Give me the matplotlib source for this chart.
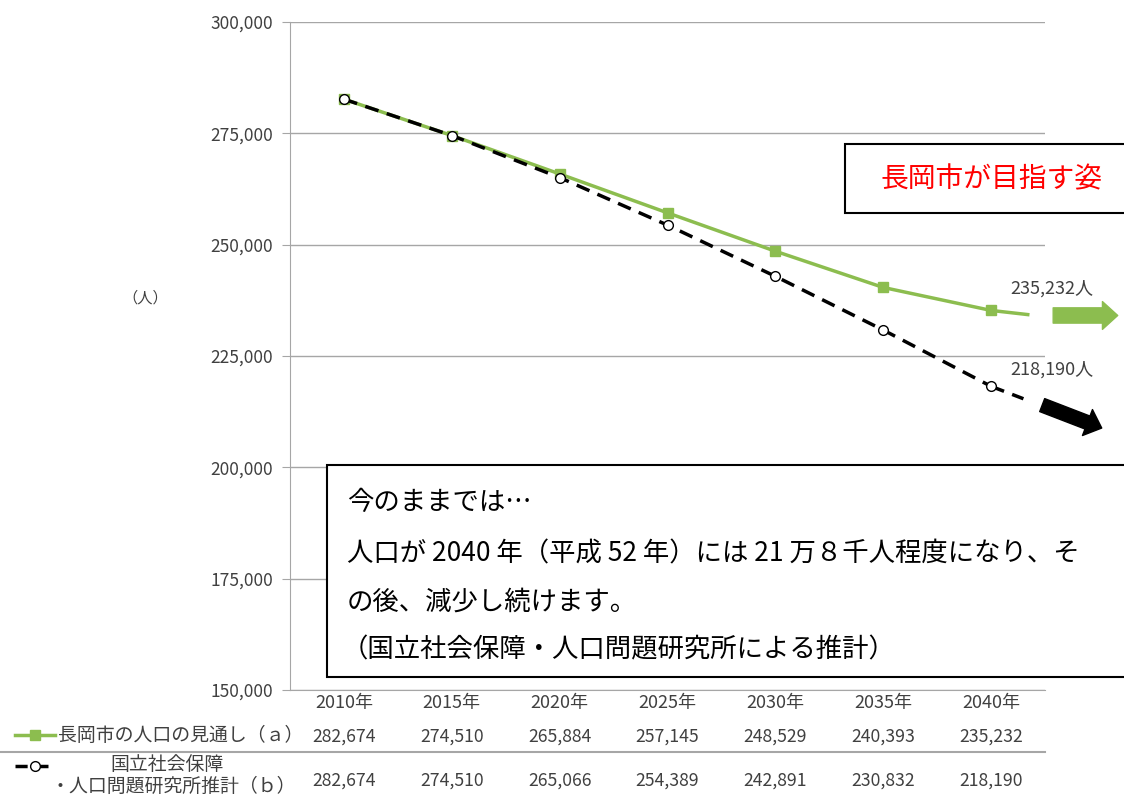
import matplotlib.pyplot as plt
import numpy as np
from matplotlib.patches import FancyArrowPatch, Rectangle
from matplotlib.lines import Line2D

plt.rcParams['font.family'] = ['Noto Sans CJK JP', 'DejaVu Sans']

# data
years = ['2010年', '2015年', '2020年', '2025年', '2030年', '2035年', '2040年']
nagaoka = [282674, 274510, 265884, 257145, 248529, 240393, 235232]
ipss = [282674, 274510, 265066, 254389, 242891, 230832, 218190]
yticks = [150000, 175000, 200000, 225000, 250000, 275000, 300000]

# trend after 2040 (tail of line, arrow start, arrow end)
nagaoka_tail = [(6.0, 235232), (6.34, 234300)]
nagaoka_arrow = [(6.55, 234100), (7.2, 234100)]
ipss_tail = [(6.0, 218190), (6.3, 215400)]
ipss_arrow = [(6.45, 214200), (7.05, 208600)]

green = '#8cbd4f'
grid_c = '#a6a6a6'
txt_c = '#404040'

fig = plt.figure(figsize=(11.24, 7.98), dpi=100)
ax = fig.add_axes([290/1124, 1-690/798, 755/1124, 668/798])

x = np.arange(len(years))
ax.plot(x, nagaoka, color=green, lw=2.5, marker='s', ms=7, mfc=green, mec=green, zorder=3)
ax.plot(x, ipss, color='black', lw=2.5, ls=(0, (4, 2.5)), marker='o', ms=7,
        mfc='white', mec='black', mew=1, zorder=4)

# continuation segments
ax.plot([p[0] for p in nagaoka_tail], [p[1] for p in nagaoka_tail], color=green, lw=2.5, clip_on=False)
ax.plot([p[0] for p in ipss_tail], [p[1] for p in ipss_tail], color='black', lw=2.5,
        ls=(0, (4, 2.5)), clip_on=False)

a1 = FancyArrowPatch(nagaoka_arrow[0], nagaoka_arrow[1],
                     arrowstyle='simple,head_length=1.1,head_width=2.0,tail_width=1.1',
                     mutation_scale=10, color=green, clip_on=False, zorder=5)
ax.add_patch(a1)
a2 = FancyArrowPatch(ipss_arrow[0], ipss_arrow[1],
                     arrowstyle='simple,head_length=1.1,head_width=2.0,tail_width=1.0',
                     mutation_scale=10, color='black', clip_on=False, zorder=5)
ax.add_patch(a2)

ax.text(6.56, 240100, f'{nagaoka[-1]:,}人', fontsize=13, color=txt_c, ha='center', va='center')
ax.text(6.56, 222000, f'{ipss[-1]:,}人', fontsize=13, color=txt_c, ha='center', va='center')

ax.set_xlim(-0.5, 6.5)
ax.set_ylim(150000, 300000)
ax.set_yticks(yticks)
ax.set_yticklabels([f'{v:,}' for v in yticks], fontsize=12.5, color=txt_c)
ax.set_xticks(x)
ax.set_xticklabels(years, fontsize=13, color=txt_c)
ax.tick_params(axis='y', length=6, color=grid_c, pad=6)
ax.tick_params(axis='x', length=0, pad=3)
ax.grid(axis='y', color=grid_c, lw=1)
ax.set_axisbelow(True)
for s in ['top', 'right']:
    ax.spines[s].set_visible(False)
ax.spines['left'].set_color(grid_c)
ax.spines['bottom'].set_color(grid_c)

fig.text(145/1124, 1-298/798, '（人）', fontsize=11, color=txt_c, ha='center', va='center')

# data table below chart
row_a_y = -0.07
row_b_y = -0.136
for i in range(len(years)):
    ax.text(i, row_a_y, f'{nagaoka[i]:,}', transform=ax.get_xaxis_transform(),
            fontsize=12.7, color=txt_c, ha='center', va='center')
    ax.text(i, row_b_y, f'{ipss[i]:,}', transform=ax.get_xaxis_transform(),
            fontsize=12.7, color=txt_c, ha='center', va='center')

fig.add_artist(Line2D([0, 1045/1124], [1-752/798, 1-752/798], color=grid_c, lw=1.5))
fig.add_artist(Line2D([15/1124, 55/1124], [1-735/798, 1-735/798], color=green, lw=2.5))
fig.add_artist(Line2D([35/1124], [1-735/798], color=green, marker='s', ms=7))
fig.add_artist(Line2D([15/1124, 55/1124], [1-766/798, 1-766/798], color='black', lw=2.5,
                      ls=(0, (3.5, 2.5))))
fig.add_artist(Line2D([35/1124], [1-766/798], color='black', marker='o', ms=7, mfc='white', mew=1))
fig.text(58/1124, 1-735/798, '長岡市の人口の見通し（ａ）', fontsize=13.6, color=txt_c, va='center')
fig.text(110/1124, 1-764/798, '国立社会保障', fontsize=13.6, color=txt_c, va='center')
fig.text(50/1124, 1-786/798, '・人口問題研究所推計（ｂ）', fontsize=13.6, color=txt_c, va='center')

# red callout box
fig.add_artist(Rectangle((845/1124, 1-213/798), 300/1124, 69/798, fc='white', ec='black', lw=1.5,
                         transform=fig.transFigure, zorder=6))
fig.text(992/1124, 1-179/798, '長岡市が目指す姿', fontsize=20, color='red', ha='center', va='center', zorder=7)

# explanation box
fig.add_artist(Rectangle((327/1124, 1-677/798), 820/1124, 212/798, fc='white', ec='black', lw=1.5,
                         transform=fig.transFigure, zorder=6))
lines = ['今のままでは…',
         '人口が 2040 年（平成 52 年）には 21 万８千人程度になり、そ',
         'の後、減少し続けます。',
         '（国立社会保障・人口問題研究所による推計）']
line_y = [503, 554, 602, 650]
for t, yy in zip(lines, line_y):
    fig.text(347/1124 if not t.startswith('（') else 342/1124, 1-yy/798, t, fontsize=19,
             color='black', va='center', zorder=7)

fig.savefig('out.png', dpi=100)
